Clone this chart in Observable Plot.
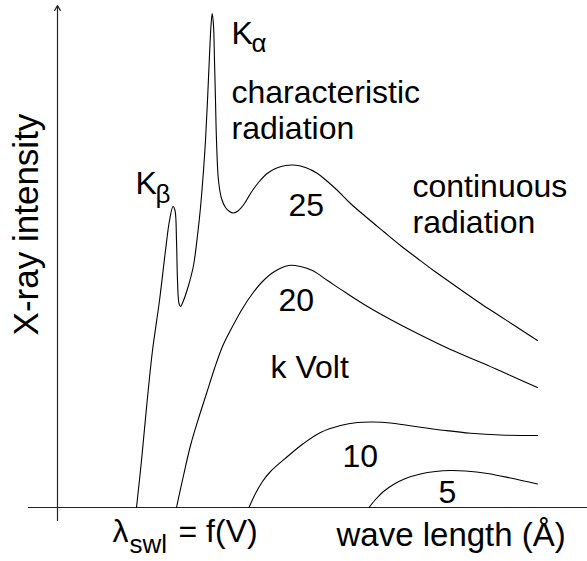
<!DOCTYPE html>
<html>
<head>
<meta charset="utf-8">
<script src="https://cdn.jsdelivr.net/npm/d3@7"></script>
<script src="https://cdn.jsdelivr.net/npm/@observablehq/plot@0.6"></script>
<style>
  html, body { margin: 0; padding: 0; background: #fff; }
  #chart svg { display: block; }
</style>
</head>
<body>
<div id="chart"></div>
<script>
// Intensity curves, [wave length, intensity] in arbitrary units
const curve25 = [
  [79,0],[84,47],[89.7,107],[95,157],[102,207],[108,257],[112,287],[115.5,301],[117.5,297],
  [119,267],[120,227],[121.5,204],[123,201],[126,207],[131,222],[136,242],[140,272],[143,300],
  [146,337],[148,367],[150,407],[152,452],[153.5,482],[154.7,494],[156,482],[157,447],[158,407],
  [159,367],[161,327],[164,309],[168,300],[172,296],[176,294.5],[181,297],[187,304],[193,314],
  [201,325],[209.7,334],[218,339],[228,342],[236,342.5],[248,340],[260,334],[270,326],[280,317],
  [293,304],[308,291],[326,276],[343,262],[360,249],[376,237],[393,225],[410,213],[426,202],
  [443,191],[460,180],[480,167]
];
const curve20 = [
  [119,0],[126,32],[133,62],[141,89],[149,114],[157,139],[165,161],[175,181],[185,199],[195,214],
  [205,226],[217,236],[231,242],[243,241],[255,237],[270,227],[288,215],[310,201],[333,188],
  [360,174],[393,158],[426,144],[453,132],[480,120]
];
const curve10 = [
  [191.5,0],[198,14],[205,26],[213,36],[230,51],[246,64],[263,75],[283,82],[300,85],[316,85.5],
  [333,84.5],[348,82.5],[363,80.3],[388,77],[413,74.3],[443,72.5],[480,72]
];
const curve5 = [
  [311.5,0],[318,8],[326,16],[336,23],[348,29],[363,33.5],[378,36],[393,37],[408,36.5],
  [430,34],[453,29.5],[480,23.5]
];
const curves = [
  {kv: 25, pts: curve25},
  {kv: 20, pts: curve20},
  {kv: 10, pts: curve10},
  {kv: 5, pts: curve5}
];
const lineData = curves.flatMap(c => c.pts.map(([x, y]) => ({kv: c.kv, x, y})));

// Annotation texts with their anchor (chart units)
const labels = [
  {text: "K", x: 78, y: 314},
  {text: "K", x: 174, y: 464},
  {text: "characteristic", x: 174, y: 405},
  {text: "radiation", x: 174, y: 369},
  {text: "25", x: 231, y: 292},
  {text: "continuous", x: 355, y: 311},
  {text: "radiation", x: 355, y: 275},
  {text: "20", x: 221, y: 197},
  {text: "k Volt", x: 213, y: 130},
  {text: "10", x: 285, y: 41},
  {text: "5", x: 381, y: 5},
  {text: "λ", x: 55, y: -34},
  {text: "= f(V)", x: 121, y: -34}
];
const xTitle = [{text: "wave length (Å)", x: 279, y: -38}];
const subLabels = [
  {text: "β", x: 98, y: 305},
  {text: "α", x: 194, y: 456},
  {text: "swl", x: 72, y: -45}
];
const yTitle = [{text: "X-ray intensity", x: -20, y: 283}];

const font = "'Liberation Sans', Arial, Helvetica, sans-serif";

const chart = Plot.plot({
  width: 587,
  height: 561,
  margin: 0,
  style: {fontFamily: font, background: "#fff"},
  x: {domain: [-57, 530], axis: null},
  y: {domain: [-54, 507], axis: null},
  marks: [
    Plot.ruleY([0], {x1: -29, x2: 530, stroke: "#222", strokeWidth: 1.2}),
    Plot.arrow([0], {x1: 0, y1: -13, x2: 0, y2: 502, stroke: "#222", strokeWidth: 1.2, headLength: 7}),
    Plot.line(lineData, {x: "x", y: "y", z: "kv", stroke: "#000", strokeWidth: 1.1, curve: "catmull-rom"}),
    Plot.text(labels, {x: "x", y: "y", text: "text", textAnchor: "start", lineAnchor: "bottom", fontSize: 32, fill: "#000"}),
    Plot.text(xTitle, {x: "x", y: "y", text: "text", textAnchor: "start", lineAnchor: "bottom", fontSize: 33, fill: "#000"}),
    Plot.text(subLabels, {x: "x", y: "y", text: "text", textAnchor: "start", lineAnchor: "bottom", fontSize: 26, fill: "#000"}),
    Plot.text(yTitle, {x: "x", y: "y", text: "text", rotate: -90, textAnchor: "middle", lineAnchor: "bottom", fontSize: 35, fill: "#000"})
  ]
});
document.getElementById("chart").appendChild(chart);
</script>
</body>
</html>
